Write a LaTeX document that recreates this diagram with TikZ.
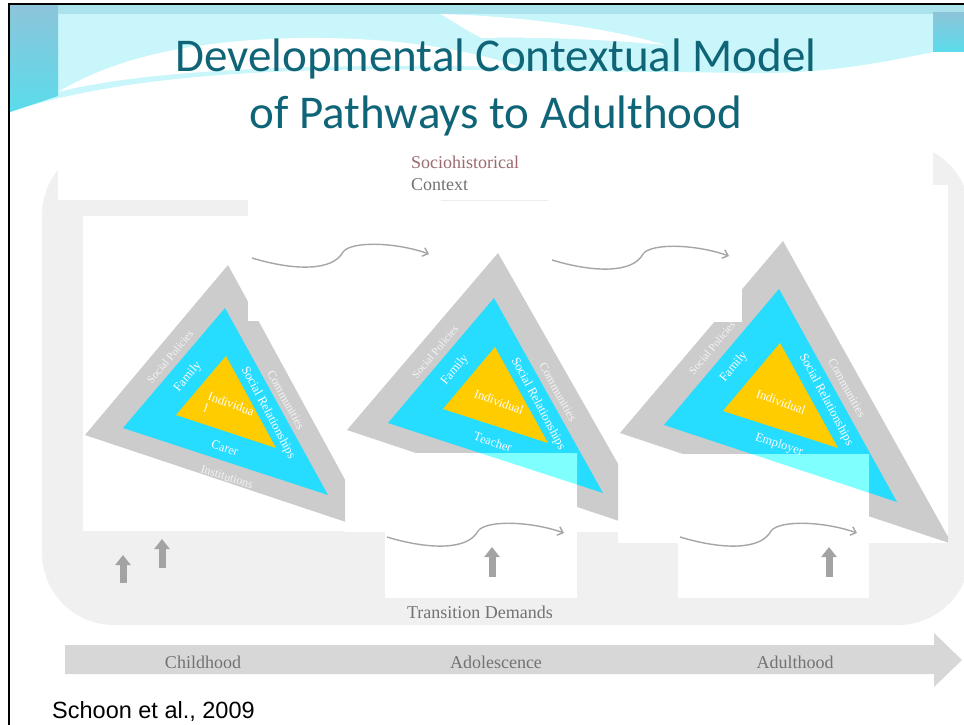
\documentclass[tikz,border=0pt]{standalone}
\usepackage{fontspec}
\setmainfont{Liberation Serif}
\newfontfamily\headfont{Carlito}
\newfontfamily\citefont{Liberation Sans}
\usetikzlibrary{arrows.meta}
\definecolor{bandgray}{HTML}{CCCCCC}
\definecolor{ringcyan}{HTML}{26DCFF}
\definecolor{coreyellow}{HTML}{FFCC00}
\definecolor{washcyan}{HTML}{80FFFF}
\definecolor{boardgray}{HTML}{F0F0F0}
\definecolor{headteal}{HTML}{0F6577}
\definecolor{linkgray}{HTML}{A6A6A6}
\definecolor{liftgray}{HTML}{A3A3A3}
\definecolor{stagegray}{HTML}{D7D7D7}
\definecolor{labelgray}{HTML}{727272}
\definecolor{sociored}{HTML}{9B6B6E}
\definecolor{skycyan}{HTML}{C8F6FA}
\definecolor{skytop}{HTML}{ABE3EC}
\definecolor{capblue}{HTML}{8CC4DA}
\definecolor{capcyan}{HTML}{5ADCEB}

\begin{document}
\begin{tikzpicture}[%
    x=1pt, y=-1pt,                          % one unit is one pixel of the slide
    >={Straight Barb[length=5pt,width=9pt]},
    every node/.style={inner sep=0pt}]
% -------------------------------------------------
% Fills, texts and connectors
\tikzset{
  outer/.style={fill=bandgray},
  ring/.style={fill=ringcyan},
  core/.style={fill=coreyellow},
  wash/.style={fill=washcyan},
  panel/.style={fill=white},
  headtxt/.style={text=headteal, font=\headfont\fontsize{47}{47}\selectfont, anchor=base},
  edgetxt/.style={text=white!96!black, font=\fontsize{11}{11}\selectfont},
  ringtxt/.style={text=white, font=\fontsize{12.5}{12.5}\selectfont},
  coretxt/.style={text=white, font=\fontsize{12.5}{13}\selectfont, align=left},
  stage/.style={text=labelgray, font=\fontsize{18}{18}\selectfont, anchor=base},
  link/.style={->, draw=linkgray, line width=1.4pt},
  lift/.style={draw=liftgray, line width=7pt, -{Triangle[length=10pt,width=15pt]}}
}
\useasboundingbox (0,0) rectangle (964,725);

% -------------------------------------------------
% Slide header band and frame
\fill[skycyan] (10,5) -- (964,5) -- (964,52) -- (933,52)
  .. controls (850,70) and (800,73) .. (760,73) -- (480,70)
  .. controls (300,67) and (130,72) .. (10,112) -- cycle;
\fill[skytop] (10,5) rectangle (964,14);
\shade[top color=capblue, bottom color=capcyan] (10,5) -- (58,5) -- (58,96) -- (10,112) -- cycle;
\shade[top color=capblue, bottom color=capcyan] (933,13) rectangle (964,52);
\fill[white] (58,92) .. controls (120,55) and (200,40) .. (300,38)
  .. controls (400,37) and (470,50) .. (520,67)
  .. controls (350,64) and (160,66) .. (58,92) -- cycle;
\fill[white] (440,14) .. controls (520,16) and (610,28) .. (665,45)
  .. controls (590,38) and (520,37) .. (482,38)
  .. controls (465,30) and (455,22) .. (440,14) -- cycle;
\draw[line width=2.5pt] (9,725) -- (9,4) -- (964,4);

\node[headtxt] (head1) at (496,72) {Developmental Contextual Model};
\node[headtxt] (head2) at (496,128) {of Pathways to Adulthood};

% -------------------------------------------------
% Grey board and the white picture panels on it
\fill[boardgray, rounded corners=72pt] (42,143) rectangle (970,625);
\fill[panel] (58,143) rectangle (933,200);
\fill[panel] (83,216) rectangle (345,531);
\fill[panel] (345,200) rectangle (618,532);
\fill[panel] (618,185) rectangle (948,543);
\draw[black!7] (441,200) -- (549,200);

\node[anchor=base west, text=sociored, font=\fontsize{18}{18}\selectfont] (soc) at (411,168) {Sociohistorical};
\node[anchor=base west, text=labelgray, font=\fontsize{18}{18}\selectfont] (ctx) at (411,190) {Context};

% -------------------------------------------------
% The three nested triangles, each cut by its panel
\begin{scope}
  \clip (83,216) rectangle (345,531);
  \fill[outer] (228,265) -- (85,435) -- (373,531) -- cycle;
  \fill[ring] (225,308) -- (123,428) -- (328,495) -- cycle;
  \fill[core] (226,356) -- (176,415) -- (276,448) -- cycle;
\end{scope}
\begin{scope}
  \clip (345,200) rectangle (618,532);
  \fill[outer] (498,253) -- (347,430) -- (658,534) -- cycle;
  \fill[ring] (494,298) -- (388,423) -- (603,493) -- cycle;
  \fill[core] (495,347) -- (443,409) -- (548,443) -- cycle;
\end{scope}
\begin{scope}
  \clip (618,185) rectangle (948,543);
  \fill[outer] (783,241) -- (620,433) -- (952,544) -- cycle;
  \fill[ring] (779,289) -- (664,425) -- (897,502) -- cycle;
  \fill[core] (780,343) -- (723,411) -- (838,448) -- cycle;
\end{scope}

% panels of the upper curved arrows lie over the triangles
\fill[panel] (248,200) rectangle (430,321);
\fill[panel] (548,200) rectangle (742,322);

% panels of the lower curved arrows wash out what lies below them
\fill[panel] (385,453) rectangle (577,598);
\begin{scope}
  \clip (385,453) rectangle (577,598);
  \fill[wash] (494,298) -- (388,423) -- (603,493) -- cycle;
\end{scope}
\fill[panel] (678,454) rectangle (869,598);
\begin{scope}
  \clip (678,454) rectangle (869,598);
  \fill[wash] (779,289) -- (664,425) -- (897,502) -- cycle;
\end{scope}

% -------------------------------------------------
% Childhood triangle
\node[edgetxt, rotate=50]  (pol1) at (170,357) {Social Policies};
\node[ringtxt, rotate=50]  (fam1) at (188,377) {Family};
\node[coretxt, rotate=-20] (ind1) at (229,410) {Individua\\l};
\node[ringtxt, rotate=-62] (rel1) at (268,413) {Social Relationships};
\node[edgetxt, rotate=-61, font=\fontsize{12}{12}\selectfont] (com1) at (286,400) {Communities};
\node[ringtxt, rotate=-18] (car1) at (225,448) {Carer};
\node[edgetxt, rotate=-18, font=\fontsize{12}{12}\selectfont] (ins1) at (227,477) {Institutions};

% Adolescence triangle
\node[edgetxt, rotate=50]  (pol2) at (435,352) {Social Policies};
\node[ringtxt, rotate=50]  (fam2) at (455,370) {Family};
\node[coretxt, rotate=-20] (ind2) at (499,402) {Individual};
\node[ringtxt, rotate=-62] (rel2) at (538,404) {Social Relationships};
\node[edgetxt, rotate=-61, font=\fontsize{12}{12}\selectfont] (com2) at (558,392) {Communities};
\node[ringtxt, rotate=-18] (tea2) at (493,442) {Teacher};

% Adulthood triangle
\node[edgetxt, rotate=50]  (pol3) at (712,348) {Social Policies};
\node[ringtxt, rotate=50]  (fam3) at (734,367) {Family};
\node[coretxt, rotate=-20] (ind3) at (781,402) {Individual};
\node[ringtxt, rotate=-62] (rel3) at (826,400) {Social Relationships};
\node[edgetxt, rotate=-61, font=\fontsize{12}{12}\selectfont] (com3) at (847,388) {Communities};
\node[ringtxt, rotate=-18] (emp3) at (779,445) {Employer};

% -------------------------------------------------
% Curved transition arrows
\coordinate (up1s) at (252,258);  \coordinate (up1e) at (429,254);
\coordinate (up2s) at (552,260);  \coordinate (up2e) at (729,256);
\coordinate (lo1s) at (387,537);  \coordinate (lo1e) at (564,533);
\coordinate (lo2s) at (680,537);  \coordinate (lo2e) at (857,533);
\draw[link] (up1s) .. controls (295,271) and (333,271) .. (343,252)
  .. controls (351,241) and (395,242) .. (up1e);
\draw[link] (up2s) .. controls (595,273) and (633,273) .. (643,254)
  .. controls (651,243) and (695,244) .. (up2e);
\draw[link] (lo1s) .. controls (430,550) and (468,550) .. (478,531)
  .. controls (486,520) and (530,521) .. (lo1e);
\draw[link] (lo2s) .. controls (723,550) and (761,550) .. (771,531)
  .. controls (779,520) and (823,521) .. (lo2e);

% Small upward arrows
\coordinate (lift1a) at (123,583); \coordinate (lift1b) at (123,555);
\coordinate (lift2a) at (162,568); \coordinate (lift2b) at (162,539);
\coordinate (lift3a) at (492,577); \coordinate (lift3b) at (492,547);
\coordinate (lift4a) at (829,577); \coordinate (lift4b) at (829,547);
\draw[lift] (lift1a) -- (lift1b);
\draw[lift] (lift2a) -- (lift2b);
\draw[lift] (lift3a) -- (lift3b);
\draw[lift] (lift4a) -- (lift4b);

\node[stage] (demand) at (480,618) {Transition Demands};

% -------------------------------------------------
% Life course arrow along the bottom
\fill[stagegray] (65,645) -- (934,645) -- (934,633) -- (962,660)
  -- (934,687) -- (934,674) -- (65,674) -- cycle;
\node[stage] (child) at (203,668) {Childhood};
\node[stage] (adol)  at (496,668) {Adolescence};
\node[stage] (adult) at (795,668) {Adulthood};

\node[anchor=base west, font=\citefont\fontsize{23.5}{23.5}\selectfont] (cite) at (52,718) {Schoon et al., 2009};
\end{tikzpicture}
\end{document}
